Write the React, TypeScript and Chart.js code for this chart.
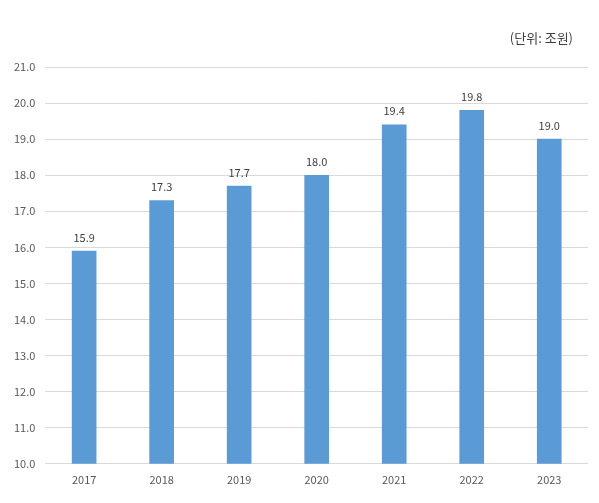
import { useEffect, useRef } from 'react'
import { Chart, registerables, type Plugin } from 'chart.js'

Chart.register(...registerables)

const YEARS = ['2017', '2018', '2019', '2020', '2021', '2022', '2023']
const VALUES = [15.9, 17.3, 17.7, 18.0, 19.4, 19.8, 19.0]
const UNIT_LABEL = '(단위: 조원)'
const FONT = '"Noto Sans CJK KR", "Noto Sans", sans-serif'

// value labels above each bar + unit note in the top right
const labelsPlugin: Plugin<'bar'> = {
  id: 'barLabels',
  afterDatasetsDraw(chart) {
    const { ctx } = chart
    const meta = chart.getDatasetMeta(0)
    ctx.save()
    ctx.font = `11px ${FONT}`
    ctx.fillStyle = '#404040'
    ctx.textAlign = 'center'
    ctx.textBaseline = 'bottom'
    meta.data.forEach((bar, i) => {
      ctx.fillText(VALUES[i].toFixed(1), bar.x, bar.y - 8)
    })
    ctx.font = `13px ${FONT}`
    ctx.fillStyle = '#404040'
    ctx.textAlign = 'right'
    ctx.textBaseline = 'middle'
    ctx.fillText(UNIT_LABEL, 573, 38)
    ctx.restore()
  },
}

export default function App() {
  const canvasRef = useRef<HTMLCanvasElement>(null)

  useEffect(() => {
    if (!canvasRef.current) return
    const chart = new Chart(canvasRef.current, {
      type: 'bar',
      data: {
        labels: YEARS,
        datasets: [{
          data: VALUES,
          backgroundColor: '#5B9BD5',
          barThickness: 24,
        }],
      },
      options: {
        responsive: false,
        animation: false,
        layout: { padding: { top: 67, right: 11, left: 4, bottom: 16 } },
        plugins: {
          legend: { display: false },
          tooltip: { enabled: false },
        },
        scales: {
          x: {
            grid: { display: false },
            border: { display: false },
            ticks: { color: '#595959', font: { size: 11, family: FONT }, padding: 1 },
          },
          y: {
            min: 10,
            max: 21,
            grid: { color: '#d9d9d9', drawTicks: false },
            border: { display: false },
            ticks: {
              stepSize: 1,
              color: '#595959',
              font: { size: 11, family: FONT },
              padding: 10,
              callback: (v) => Number(v).toFixed(1),
            },
          },
        },
      },
      plugins: [labelsPlugin],
    })
    return () => chart.destroy()
  }, [])

  return (
    <div style={{ margin: -8, width: 599, height: 503, background: '#fff' }}>
      <canvas ref={canvasRef} width={599} height={503} style={{ display: 'block' }} />
    </div>
  )
}
